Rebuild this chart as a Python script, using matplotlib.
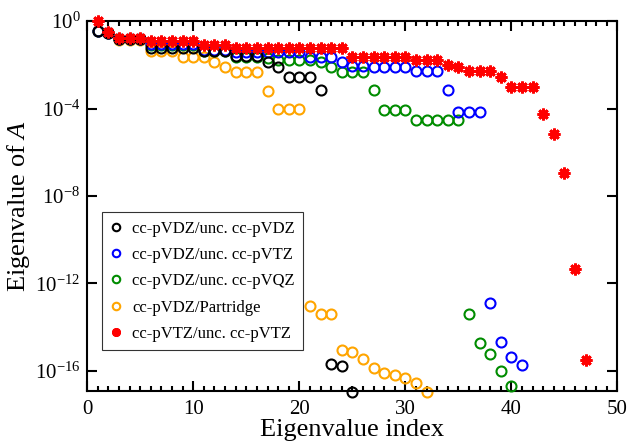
import numpy as np
import matplotlib
matplotlib.use("Agg")
import matplotlib.pyplot as plt
from matplotlib.ticker import MultipleLocator, NullLocator

plt.rcParams['font.family'] = 'Liberation Serif'
plt.rcParams['mathtext.fontset'] = 'custom'
plt.rcParams['mathtext.rm'] = 'Liberation Serif'
plt.rcParams['mathtext.it'] = 'Liberation Serif:italic'

# eigenvalues (sorted, descending)
vdz_vdz = [3.6e-1, 2.8e-1, 1.5e-1, 1.5e-1, 1.5e-1, 5.7e-2, 5.7e-2, 5.7e-2, 5.7e-2, 5.7e-2,
           4.2e-2, 4.2e-2, 4.2e-2, 2.5e-2, 2.5e-2, 2.5e-2, 1.4e-2, 7.6e-3, 2.7e-3, 2.7e-3,
           2.7e-3, 6.8e-4, 2.0e-16, 1.55e-16, 1.1e-17]
vdz_vtz = [3.6e-1, 2.8e-1, 1.5e-1, 1.5e-1, 1.5e-1, 8.9e-2, 8.9e-2, 8.9e-2, 8.9e-2, 8.9e-2,
           5.0e-2, 5.0e-2, 5.0e-2, 3.8e-2, 3.8e-2, 3.8e-2, 3.8e-2, 3.8e-2, 3.8e-2, 3.8e-2,
           2.4e-2, 2.4e-2, 2.4e-2, 1.3e-2, 8.9e-3, 8.9e-3, 8.3e-3, 8.3e-3, 8.3e-3, 8.3e-3,
           5.0e-3, 5.0e-3, 5.0e-3, 6.8e-4, 7.1e-5, 7.1e-5, 7.1e-5, 1.23e-13, 2.0e-15, 4.0e-16,
           1.8e-16]
vdz_vqz = [3.6e-1, 2.8e-1, 1.5e-1, 1.5e-1, 1.5e-1, 7.9e-2, 7.9e-2, 7.9e-2, 7.9e-2, 7.9e-2,
           4.1e-2, 4.1e-2, 4.1e-2, 2.3e-2, 2.3e-2, 2.3e-2, 2.0e-2, 1.7e-2, 1.7e-2, 1.7e-2,
           1.7e-2, 1.3e-2, 7.8e-3, 4.9e-3, 4.9e-3, 4.9e-3, 6.8e-4, 8.3e-5, 8.3e-5, 8.3e-5,
           3.0e-5, 3.0e-5, 3.0e-5, 3.0e-5, 3.0e-5, 3.8e-14, 1.9e-15, 5.6e-16, 9.8e-17, 1.9e-17]
vdz_partridge = [3.6e-1, 2.8e-1, 1.4e-1, 1.4e-1, 1.4e-1, 4.1e-2, 4.1e-2, 4.1e-2, 2.4e-2, 2.4e-2,
                 2.4e-2, 1.4e-2, 7.8e-3, 4.9e-3, 4.9e-3, 4.9e-3, 6.6e-4, 9.3e-5, 9.3e-5, 9.3e-5,
                 9.5e-14, 3.8e-14, 3.8e-14, 8.9e-16, 6.8e-16, 3.5e-16, 1.3e-16, 8.1e-17, 6.3e-17, 4.5e-17,
                 2.6e-17, 1.0e-17]
vtz_vtz = [9.8e-1, 3.2e-1, 1.66e-1, 1.66e-1, 1.66e-1, 1.23e-1, 1.23e-1, 1.23e-1, 1.23e-1, 1.23e-1,
           7.9e-2, 7.9e-2, 7.9e-2, 5.7e-2, 5.7e-2, 5.7e-2, 5.7e-2, 5.7e-2, 5.7e-2, 5.7e-2,
           5.7e-2, 5.7e-2, 5.7e-2, 5.7e-2, 2.4e-2, 2.4e-2, 2.4e-2, 2.4e-2, 2.4e-2, 2.4e-2,
           1.74e-2, 1.74e-2, 1.74e-2, 1.0e-2, 8.3e-3, 5.2e-3, 5.2e-3, 5.2e-3, 2.9e-3, 1.02e-3,
           1.02e-3, 1.02e-3, 5.8e-5, 6.6e-6, 1.1e-7, 4.6e-12, 3.2e-16]

labels = ['cc-pVDZ/unc. cc-pVDZ', 'cc-pVDZ/unc. cc-pVTZ', 'cc-pVDZ/unc. cc-pVQZ',
          'cc-pVDZ/Partridge', 'cc-pVTZ/unc. cc-pVTZ']
series = [vdz_vdz, vdz_vtz, vdz_vqz, vdz_partridge, vtz_vtz]
colors = ['black', '#0000ff', '#008c00', '#ffa500', '#ff0000']
zorders = [5, 4, 3, 2, 6]

fig = plt.figure(figsize=(6.28, 4.41), dpi=100)
ax = fig.add_axes([0.139, 0.114, 0.844, 0.838])

for vals, lab, c, z in zip(series, labels, colors, zorders):
    idx = np.arange(1, len(vals) + 1)
    if c == '#ff0000':
        ax.plot(idx, vals, linestyle='none', marker=(8, 2, 0), ms=8.5, mew=2.0,
                color=c, label=lab, zorder=z, clip_on=False)
    else:
        ax.plot(idx, vals, linestyle='none', marker='o', ms=7.2, mew=1.5,
                mfc='none', mec=c, label=lab, zorder=z, clip_on=False)

ax.set_yscale('log')
ax.set_xlim(0, 50)
ax.set_ylim(10**-16.92, 1.0)
ax.set_yticks([1e0, 1e-4, 1e-8, 1e-12, 1e-16])
ax.yaxis.set_minor_locator(NullLocator())
ax.xaxis.set_major_locator(MultipleLocator(10))
ax.xaxis.set_minor_locator(MultipleLocator(1))

ax.tick_params(which='both', direction='in', top=True, right=True, width=1.5, labelsize=15)
ax.tick_params(which='major', length=7.5, pad=5)
ax.tick_params(which='minor', length=3.8)
ax.tick_params(axis='x', pad=7)
for sp in ax.spines.values():
    sp.set_linewidth(1.5)

ax.set_xlabel('Eigenvalue index', fontsize=19, labelpad=0)
ax.set_ylabel(r'Eigenvalue of $A$', fontsize=19, labelpad=2)

leg = ax.legend(loc='upper left', bbox_to_anchor=(0.028, 0.483), borderaxespad=0,
                fontsize=12, frameon=True, fancybox=False, edgecolor='black',
                handlelength=0.7, handletextpad=0.6, labelspacing=0.62,
                markerscale=0.75, borderpad=0.5)
leg.get_frame().set_linewidth(0.8)

fig.savefig('out.png', dpi=100)
